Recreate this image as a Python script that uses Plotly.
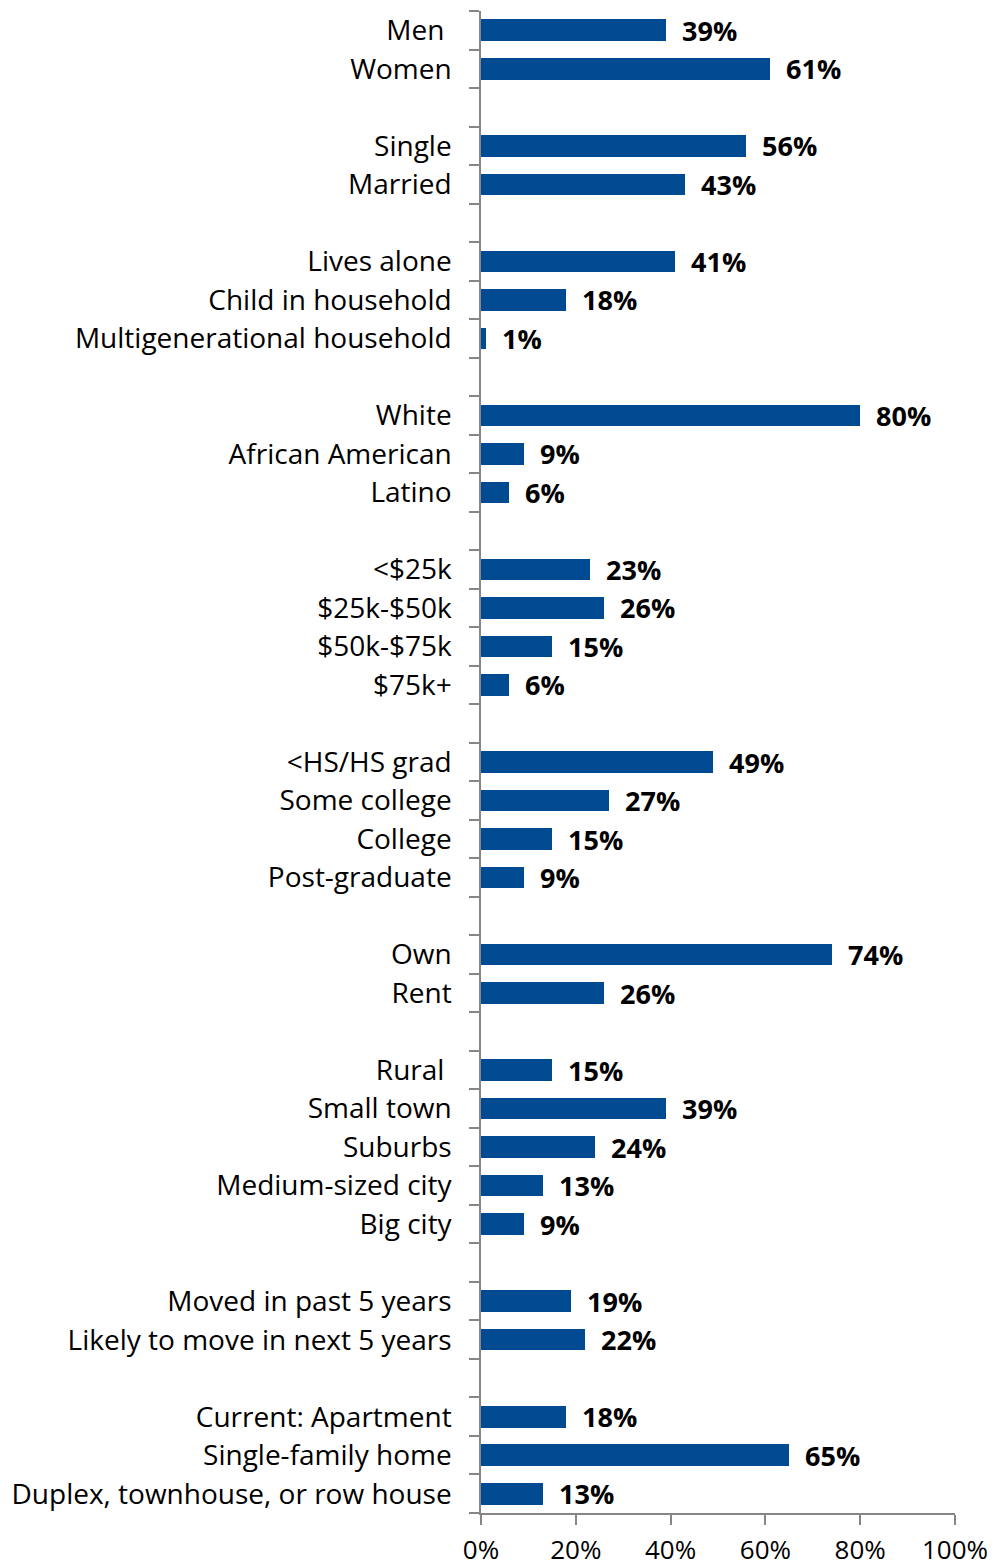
import plotly.graph_objects as go

# Survey profile: share of respondents in each group (percent)
gender = ["Men\u00a0", "Women"]
gender_pct = [39, 61]

marital = ["Single", "Married"]
marital_pct = [56, 43]

household = ["Lives alone", "Child in household", "Multigenerational household"]
household_pct = [41, 18, 1]

race = ["White", "African American", "Latino"]
race_pct = [80, 9, 6]

income = ["<$25k", "$25k-$50k", "$50k-$75k", "$75k+"]
income_pct = [23, 26, 15, 6]

education = ["<HS/HS grad", "Some college", "College", "Post-graduate"]
education_pct = [49, 27, 15, 9]

tenure = ["Own", "Rent"]
tenure_pct = [74, 26]

community = ["Rural\u00a0", "Small town", "Suburbs", "Medium-sized city", "Big city"]
community_pct = [15, 39, 24, 13, 9]

mobility = ["Moved in past 5 years", "Likely to move in next 5 years"]
mobility_pct = [19, 22]

home_type = ["Current: Apartment", "Single-family home", "Duplex, townhouse, or row house"]
home_type_pct = [18, 65, 13]

x_ticks = [0, 20, 40, 60, 80, 100]
x_tick_labels = ["0%", "20%", "40%", "60%", "80%", "100%"]

groups = [
    (gender, gender_pct),
    (marital, marital_pct),
    (household, household_pct),
    (race, race_pct),
    (income, income_pct),
    (education, education_pct),
    (tenure, tenure_pct),
    (community, community_pct),
    (mobility, mobility_pct),
    (home_type, home_type_pct),
]

# Lay groups out on consecutive rows with one empty row between groups
labels, values, rows = [], [], []
slot = 0
for gi, (names, pcts) in enumerate(groups):
    if gi > 0:
        slot += 1
    for name, pct in zip(names, pcts):
        labels.append(name)
        values.append(pct)
        rows.append(slot)
        slot += 1
n_slots = slot
boundaries = [k - 0.5 for k in range(n_slots + 1)]

BAR = "#004a91"
AXIS = "#868686"
FONT = "Open Sans"
LABEL_SIZE = 28
VALUE_SIZE = 27

fig = go.Figure(
    go.Bar(
        x=values,
        y=rows,
        orientation="h",
        width=0.56,
        marker=dict(color=BAR, line=dict(width=0)),
        hoverinfo="skip",
    )
)

for v, r in zip(values, rows):
    fig.add_annotation(
        x=v, y=r, text=f"<b>{v}%</b>", showarrow=False,
        xanchor="left", yanchor="middle", xshift=14,
        font=dict(family=FONT, size=VALUE_SIZE, color="#000000"),
    )

fig.update_layout(
    width=996, height=1566,
    margin=dict(l=481, r=41, t=11, b=53),
    paper_bgcolor="white", plot_bgcolor="white",
    showlegend=False,
    font=dict(family=FONT, size=LABEL_SIZE, color="#000000"),
    bargap=0,
)

fig.update_xaxes(
    range=[0, 100], automargin=False,
    tickmode="array", tickvals=x_ticks, ticktext=x_tick_labels,
    ticks="outside", ticklen=10, tickwidth=1.5, tickcolor=AXIS,
    ticklabelstandoff=3,
    showline=True, linecolor=AXIS, linewidth=1.5,
    showgrid=False, zeroline=False,
    tickfont=dict(family=FONT, size=26, color="#000000"),
)

fig.update_yaxes(
    range=[n_slots - 0.5, -0.5], automargin=False,
    tickmode="array", tickvals=rows, ticktext=labels,
    ticks="", ticklabelstandoff=22,
    minor=dict(
        tickmode="array", tickvals=boundaries,
        ticks="outside", ticklen=10, tickwidth=1.5, tickcolor=AXIS,
        showgrid=False,
    ),
    showline=True, linecolor=AXIS, linewidth=1.5,
    showgrid=False, zeroline=False,
    tickfont=dict(family=FONT, size=LABEL_SIZE, color="#000000"),
)

fig.write_html("out.html")
